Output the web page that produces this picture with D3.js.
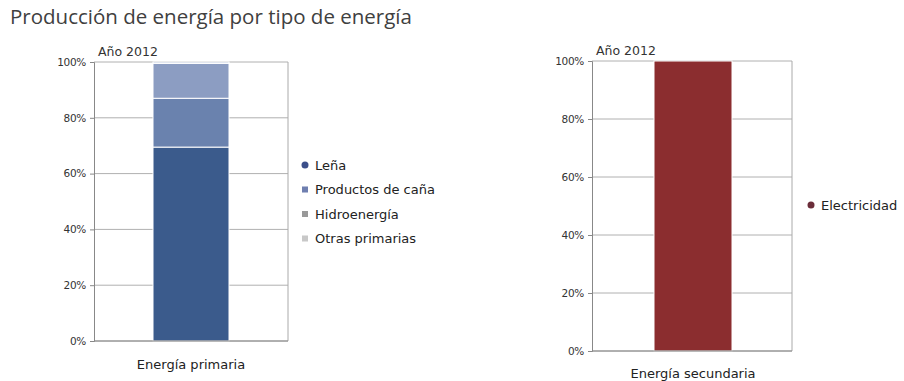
<!DOCTYPE html>
<html><head><meta charset="utf-8">
<script src="https://cdn.jsdelivr.net/npm/d3@7"></script>
<style>body{margin:0;background:#fff}svg{display:block}</style>
</head><body>
<svg id="c" width="904" height="381"></svg>
<script>
const title = "Producción de energía por tipo de energía";
const yearLabel = "Año 2012";
const yTicks = [0, 20, 40, 60, 80, 100];
const primaryCategory = "Energía primaria";
const primarySeries = ["Leña", "Productos de caña", "Hidroenergía", "Otras primarias"];
const primaryValues = [69.5, 17.5, 12.5, 0.5];
const primaryColors = ["#3b5b8c", "#6a82ae", "#8c9dc2", "#b3bfd6"];
const legendColors1 = ["#3b4f8a", "#6f7fb0", "#999999", "#c8c8c8"];
const secondaryCategory = "Energía secundaria";
const secondarySeries = ["Electricidad"];
const secondaryValues = [100];
const secondaryColors = ["#8b2d2f"];
const legendColors2 = ["#6b2d3a"];

const svg = d3.select("#c");
const font = "'DejaVu Sans', Verdana, sans-serif";

svg.append("text").attr("x", 10).attr("y", 24).text(title)
  .attr("font-family", "'Open Sans', sans-serif").attr("font-size", 20.5).attr("fill", "#404040");

function panel(opt) {
  const g = svg.append("g");
  const x = d3.scaleBand().domain([opt.category]).range([opt.x0, opt.x1]).paddingInner(0).paddingOuter(0.77);
  const y = d3.scaleLinear().domain([0, 100]).range([opt.y0, opt.y1]);
  const bw = opt.barW;
  const cx = x(opt.category) + x.bandwidth() / 2;
  const bx0 = cx - bw/2 + opt.shift, bx1 = cx + bw/2 + opt.shift;
  yTicks.forEach(t => {
    g.append("line").attr("x1", opt.x0).attr("x2", opt.x1).attr("y1", y(t)).attr("y2", y(t))
      .attr("stroke", "#b0b0b0").attr("stroke-width", 1);
  });
  let acc = 0;
  const stacks = opt.values.map((v, i) => { const s = {y0: acc, y1: acc + v, i}; acc += v; return s; });
  g.selectAll("rect.seg").data(stacks).join("rect")
    .attr("x", bx0).attr("width", bx1 - bx0)
    .attr("y", d => y(d.y1)).attr("height", d => y(d.y0) - y(d.y1))
    .attr("fill", d => opt.colors[d.i]).attr("stroke", "#fff").attr("stroke-width", 1);
  const yAxis = d3.axisLeft(y).tickValues(yTicks).tickFormat(d => d + "%").tickSize(4).tickPadding(4);
  const ax = g.append("g").attr("transform", `translate(${opt.x0},0)`).call(yAxis);
  ax.select(".domain").attr("stroke", "#888");
  ax.selectAll(".tick line").attr("stroke", "#888");
  ax.selectAll("text").attr("font-family", font).attr("font-size", 10.5).attr("fill", "#333")
    .attr("letter-spacing", -0.3);
  g.append("line").attr("x1", opt.x1).attr("x2", opt.x1).attr("y1", y(100)).attr("y2", y(0)).attr("stroke", "#aaa");
  g.append("line").attr("x1", opt.x0).attr("x2", opt.x1).attr("y1", y(0)).attr("y2", y(0)).attr("stroke", "#888");
  g.append("text").attr("x", opt.x0 + 4).attr("y", y(100) - 6).text(yearLabel)
    .attr("font-family", font).attr("font-size", 12.5).attr("fill", "#333");
  g.append("text").attr("x", cx + opt.shift).attr("y", opt.catY).attr("text-anchor", "middle").text(opt.category)
    .attr("font-family", font).attr("font-size", 13).attr("fill", "#222");
  opt.series.forEach((s, i) => {
    const ly = opt.legY + i * 24.5;
    if (i === 0) g.append("circle").attr("cx", opt.legX).attr("cy", ly).attr("r", 3.5).attr("fill", opt.legColors[i]);
    else g.append("rect").attr("x", opt.legX - 3).attr("y", ly - 3).attr("width", 6).attr("height", 6).attr("fill", opt.legColors[i]);
    g.append("text").attr("x", opt.legX + 10).attr("y", ly + 4.5).text(s)
      .attr("font-family", font).attr("font-size", 13).attr("fill", "#222");
  });
}

panel({category: primaryCategory, series: primarySeries, values: primaryValues, colors: primaryColors,
  legColors: legendColors1, x0: 94, x1: 288, y0: 341, y1: 62, barW: 76, shift: 0, catY: 369,
  legX: 305, legY: 165});
panel({category: secondaryCategory, series: secondarySeries, values: secondaryValues, colors: secondaryColors,
  legColors: legendColors2, x0: 592, x1: 792, y0: 351, y1: 61, barW: 78, shift: 1, catY: 378,
  legX: 811, legY: 205});
</script>
</body></html>
